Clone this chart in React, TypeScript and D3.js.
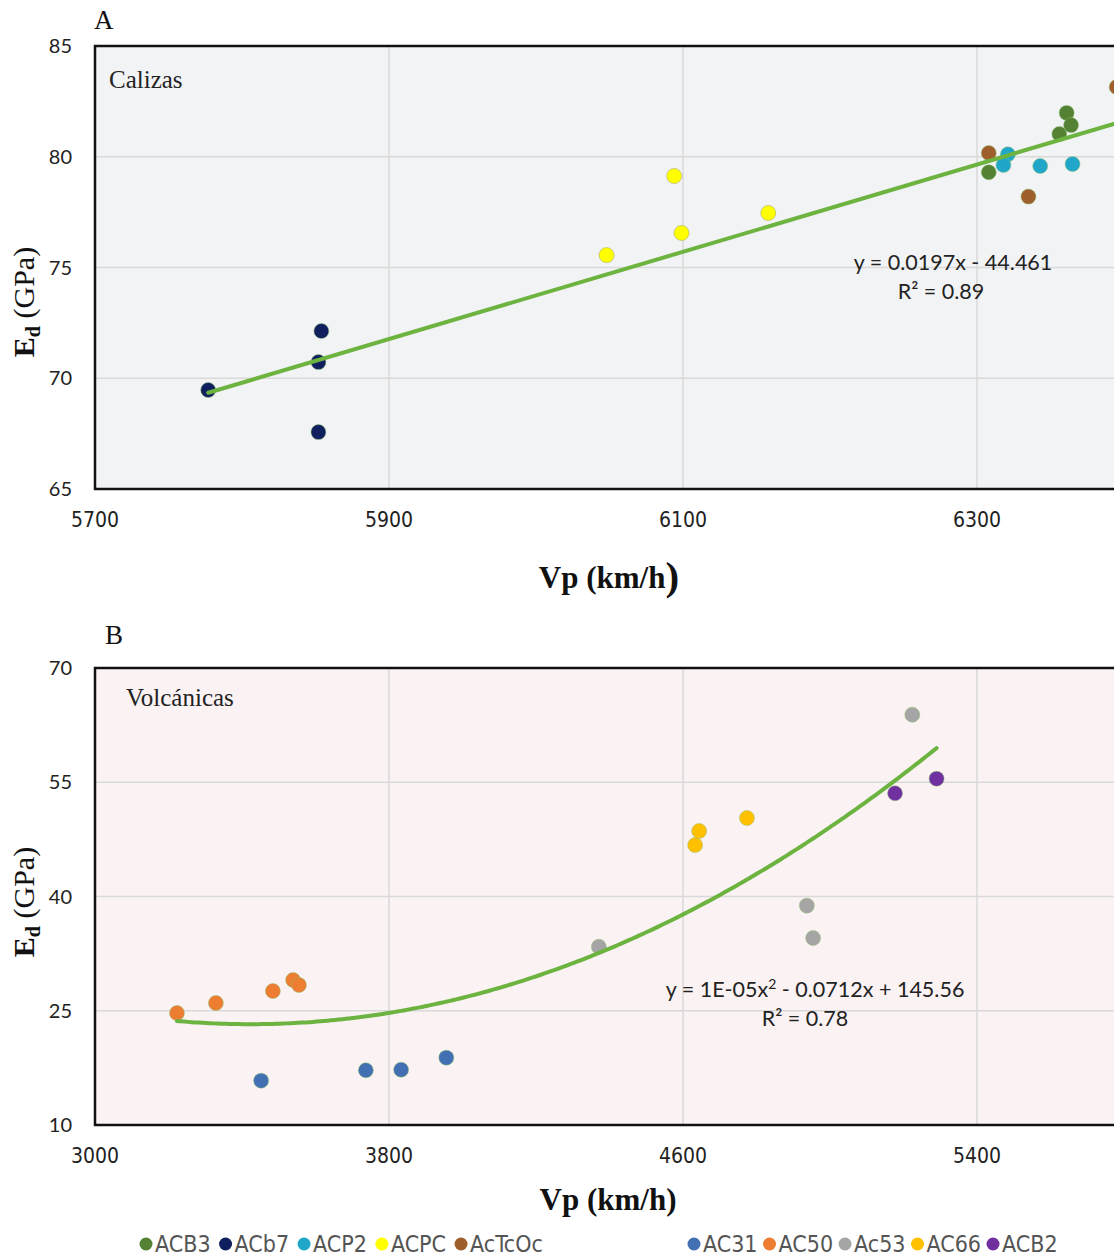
import React from 'react';
import * as d3 from 'd3';

// ---- Panel A: Calizas ----
const acb3Vp = [6308, 6361, 6364, 6356];
const acb3Ed = [79.3, 81.98, 81.43, 81.03];
const acb7Vp = [5777, 5854, 5852, 5852];
const acb7Ed = [69.47, 72.13, 70.73, 67.57];
const acp2Vp = [6321, 6318, 6343, 6365];
const acp2Ed = [80.11, 79.63, 79.58, 79.67];
const acpcVp = [6048, 6094, 6099, 6158];
const acpcEd = [75.56, 79.13, 76.56, 77.46];
const actcocVp = [6308, 6335, 6395];
const actcocEd = [80.17, 78.2, 83.15];

// ---- Panel B: Volcánicas ----
const ac31Vp = [3452, 3737, 3833, 3956];
const ac31Ed = [15.82, 17.18, 17.26, 18.84];
const ac50Vp = [3223, 3329, 3484, 3539, 3555];
const ac50Ed = [24.71, 26.02, 27.59, 29.04, 28.38];
const ac53Vp = [4371, 4937, 4954, 5224];
const ac53Ed = [33.4, 38.8, 34.55, 63.87];
const ac66Vp = [4633, 4644, 4774];
const ac66Ed = [46.76, 48.6, 50.31];
const acb2Vp = [5177, 5290];
const acb2Ed = [53.55, 55.47];

// visible tick labels (axes run on past the right edge of the picture)
const ticksAx = [5700, 5900, 6100, 6300];
const ticksAy = [65, 70, 75, 80, 85];
const ticksBx = [3000, 3800, 4600, 5400];
const ticksBy = [10, 25, 40, 55, 70];

// trend lines (Excel shows rounded coefficients)
const linA = [0.0197, -44.461];
const quadB = [1.04e-5, -0.0712, 145.1];

const seriesA = [
  { name: 'ACB3', color: '#548235', vp: acb3Vp, ed: acb3Ed },
  { name: 'ACb7', color: '#10205e', vp: acb7Vp, ed: acb7Ed },
  { name: 'ACP2', color: '#1fa6c9', vp: acp2Vp, ed: acp2Ed },
  { name: 'ACPC', color: '#ffff00', vp: acpcVp, ed: acpcEd },
  { name: 'AcTcOc', color: '#9e5f2c', vp: actcocVp, ed: actcocEd },
];
const seriesB = [
  { name: 'AC31', color: '#4270b3', vp: ac31Vp, ed: ac31Ed },
  { name: 'AC50', color: '#ed7d31', vp: ac50Vp, ed: ac50Ed },
  { name: 'Ac53', color: '#a5a5a5', vp: ac53Vp, ed: ac53Ed },
  { name: 'AC66', color: '#ffc000', vp: ac66Vp, ed: ac66Ed },
  { name: 'ACB2', color: '#7030a0', vp: acb2Vp, ed: acb2Ed },
];

const W = 1114;
const H = 1258;
const SANS = "Lato, 'Open Sans', sans-serif";
const NARROW = "'Liberation Sans Narrow', 'DejaVu Sans Condensed', sans-serif";
const SERIF = "'Liberation Serif', 'Times New Roman', serif";
const TREND = '#6db33f';

const measure = (() => {
  let ctx: CanvasRenderingContext2D | null = null;
  return (txt: string, font: string) => {
    if (!ctx) ctx = document.createElement('canvas').getContext('2d');
    if (!ctx) return txt.length * 10;
    ctx.font = font;
    return ctx.measureText(txt).width;
  };
})();

function Panel({ x, y, xTicks, yTicks, bg, series, trend, clipId }: any) {
  const [x0, x1] = x.range();
  const [y0, y1] = y.range();
  const gridX = xTicks.concat([x.domain()[1]]);
  return (
    <g>
      <defs>
        <clipPath id={clipId}>
          <rect x={x0} y={y1} width={x1 - x0} height={y0 - y1} />
        </clipPath>
      </defs>
      <rect x={x0} y={y1} width={x1 - x0} height={y0 - y1} fill={bg} />
      {yTicks.map((t: number) => (
        <line key={'gy' + t} x1={x0} x2={x1} y1={y(t)} y2={y(t)} stroke="#d9d9d9" strokeWidth={1.5} />
      ))}
      {gridX.map((t: number) => (
        <line key={'gx' + t} x1={x(t)} x2={x(t)} y1={y1} y2={y0} stroke="#d9d9d9" strokeWidth={1.5} />
      ))}
      <g clipPath={`url(#${clipId})`}>
        {series.map((s: any) =>
          s.vp.map((v: number, i: number) => (
            <circle key={s.name + i} cx={x(v)} cy={y(s.ed[i])} r={7.5} fill={s.color}
              stroke={s.color === '#ffff00' ? '#9a9a60' : '#8fbf70'} strokeOpacity={0.6} strokeWidth={0.8} />
          ))
        )}
        <path d={trend} fill="none" stroke={TREND} strokeWidth={4} strokeLinecap="round" />
      </g>
      <path d={`M${x1},${y1}H${x0}V${y0}H${x1}`} fill="none" stroke="#111" strokeWidth={2.5} />
      {yTicks.map((t: number) => (
        <text key={'ty' + t} x={72} y={y(t)} dy="0.35em" textAnchor="end" fontFamily={SANS} fontSize={20} fill="#222">{t}</text>
      ))}
      {xTicks.map((t: number) => (
        <text key={'tx' + t} x={x(t)} y={y0 + 31} dy="0.35em" textAnchor="middle" fontFamily={NARROW} fontSize={21} fill="#222">{t}</text>
      ))}
    </g>
  );
}

function Legend({ items, startX, y, gap }: any) {
  const size = 23;
  const font = `${size}px ${NARROW}`;
  let cx = startX;
  return (
    <g>
      {items.map((s: any) => {
        const gx = cx;
        cx += 16 + measure(s.name, font) + gap;
        return (
          <g key={s.name}>
            <circle cx={gx + 6} cy={y} r={6.5} fill={s.color} />
            <text x={gx + 15} y={y} dy="0.36em" fontFamily={NARROW} fontSize={size} fill="#555">{s.name}</text>
          </g>
        );
      })}
    </g>
  );
}

function YTitle({ cx, cy }: any) {
  return (
    <text transform={`translate(${cx},${cy}) rotate(-90)`} textAnchor="middle" fontFamily={SERIF} fontSize={30} fill="#111">
      <tspan fontWeight="bold">E</tspan>
      <tspan fontWeight="bold" fontSize={20} dy={6}>d</tspan>
      <tspan dy={-6}>{'  (GPa)'}</tspan>
    </text>
  );
}

export default function App() {
  const xA = d3.scaleLinear().domain([5700, 6500]).range([95, 1271]);
  const yA = d3.scaleLinear().domain([65, 85]).range([489, 46]);
  const xB = d3.scaleLinear().domain([3000, 6200]).range([95, 1271]);
  const yB = d3.scaleLinear().domain([10, 70]).range([1125, 668]);

  const allA = seriesA.flatMap(s => s.vp);
  const allB = seriesB.flatMap(s => s.vp);
  const [aMin, aMax] = d3.extent(allA) as [number, number];
  const [bMin, bMax] = d3.extent(allB) as [number, number];

  const lineA = d3.line<number>().x(v => xA(v)).y(v => yA(linA[0] * v + linA[1]));
  const lineB = d3.line<number>().x(v => xB(v)).y(v => yB(quadB[0] * v * v + quadB[1] * v + quadB[2])).curve(d3.curveMonotoneX);
  const bSamples = d3.range(bMin, bMax, 10).concat([bMax]);

  return (
    <div style={{ position: 'absolute', left: 0, top: 0 }}>
      <svg width={W} height={H} style={{ display: 'block', background: '#fff' }}>
        {/* Panel A */}
        <text x={94} y={29} fontFamily={SERIF} fontSize={27} fill="#111">A</text>
        <Panel x={xA} y={yA} xTicks={ticksAx} yTicks={ticksAy} bg="#f2f3f5" series={seriesA}
          trend={lineA([aMin, aMax])} clipId="clipA" />
        <text x={109} y={88} fontFamily={SERIF} fontSize={25} fill="#222">Calizas</text>
        <text x={953} y={270} textAnchor="middle" fontFamily={SANS} fontSize={21.5} fill="#222">y = 0.0197x - 44.461</text>
        <text x={941} y={299} textAnchor="middle" fontFamily={SANS} fontSize={21.5} fill="#222">R² = 0.89</text>
        <text x={609} y={588} textAnchor="middle" fontFamily={SERIF} fontSize={31} fontWeight="bold" fill="#111">
          Vp (km/h<tspan fontSize={41} dy={2}>)</tspan>
        </text>
        <YTitle cx={34} cy={302} />

        {/* Panel B */}
        <text x={105} y={644} fontFamily={SERIF} fontSize={27} fill="#111">B</text>
        <Panel x={xB} y={yB} xTicks={ticksBx} yTicks={ticksBy} bg="#faf2f3" series={seriesB}
          trend={lineB(bSamples)} clipId="clipB" />
        <text x={126} y={706} fontFamily={SERIF} fontSize={25} fill="#222">Volcánicas</text>
        <text x={815} y={997} textAnchor="middle" fontFamily={SANS} fontSize={21.5} fill="#222">
          y = 1E-05x<tspan fontSize={14} dy={-8}>2</tspan><tspan dy={8}> - 0.0712x + 145.56</tspan>
        </text>
        <text x={805} y={1026} textAnchor="middle" fontFamily={SANS} fontSize={21.5} fill="#222">R² = 0.78</text>
        <text x={608} y={1210} textAnchor="middle" fontFamily={SERIF} fontSize={31} fontWeight="bold" fill="#111">Vp (km/h)</text>
        <YTitle cx={34} cy={902} />

        <Legend items={seriesA} startX={140} y={1244} gap={8} />
        <Legend items={seriesB} startX={688} y={1244} gap={5} />
      </svg>
    </div>
  );
}
